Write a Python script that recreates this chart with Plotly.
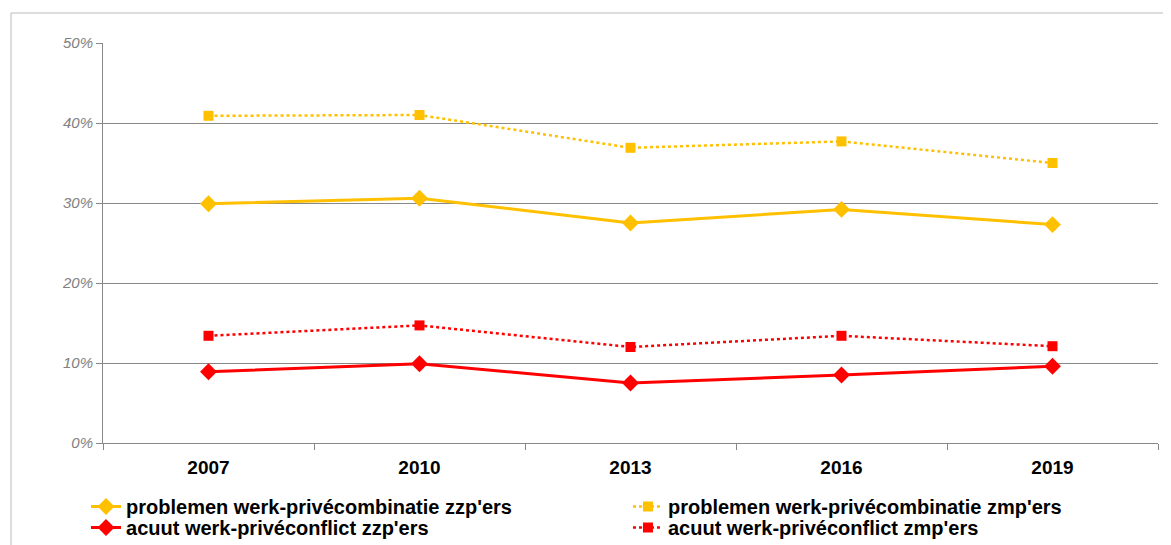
import plotly.graph_objects as go

years = ["2007", "2010", "2013", "2016", "2019"]
prob_zzp = [29.9, 30.6, 27.5, 29.2, 27.3]
prob_zmp = [40.9, 41.0, 36.9, 37.7, 35.0]
acuut_zzp = [8.9, 9.9, 7.5, 8.5, 9.6]
acuut_zmp = [13.4, 14.7, 12.0, 13.4, 12.1]

names = [
    "problemen werk-privécombinatie zzp'ers",
    "problemen werk-privécombinatie zmp'ers",
    "acuut werk-privéconflict zzp'ers",
    "acuut werk-privéconflict zmp'ers",
]

YELLOW = "#FFC000"
RED = "#FF0000"
FONT = "Liberation Sans, Arial, sans-serif"

fig = go.Figure()
series = [
    (prob_zzp, names[0], YELLOW, "solid", "diamond", 13, 3, "legend"),
    (prob_zmp, names[1], YELLOW, "dot", "square", 10, 2.5, "legend2"),
    (acuut_zzp, names[2], RED, "solid", "diamond", 13, 3, "legend3"),
    (acuut_zmp, names[3], RED, "dot", "square", 10, 2.5, "legend4"),
]
for vals, name, col, dash, sym, ms, lw, lg in series:
    fig.add_trace(go.Scatter(
        x=years, y=[v / 100 for v in vals], name=name, mode="lines+markers",
        line=dict(color=col, dash=dash, width=lw),
        marker=dict(symbol=sym, size=ms, color=col, line=dict(width=0)),
        legend=lg,
    ))

legend_common = dict(
    orientation="v", yanchor="top", tracegroupgap=0,
    font=dict(size=20, family=FONT, color="black", weight="bold"),
    bgcolor="rgba(0,0,0,0)",
)
LX1, LX2 = -0.0161, 0.4976
LY1, LY2 = -0.11, -0.1625

fig.update_layout(
    width=1171, height=545,
    margin=dict(l=95, r=21, t=35, b=110, autoexpand=False),
    paper_bgcolor="white", plot_bgcolor="white",
    font=dict(family=FONT, color="black"),
    showlegend=True,
    legend=dict(x=LX1, y=LY1, **legend_common),
    legend2=dict(x=LX2, y=LY1, **legend_common),
    legend3=dict(x=LX1, y=LY2, **legend_common),
    legend4=dict(x=LX2, y=LY2, **legend_common),
    xaxis=dict(
        type="category", range=[-0.5, 4.5], showline=True, linecolor="#888888", linewidth=1,
        ticks="outside", tickson="boundaries", ticklen=6, tickcolor="#888888",
        showgrid=False, zeroline=False, ticklabelstandoff=7,
        tickfont=dict(size=19, color="black", family=FONT, weight="bold"),
    ),
    yaxis=dict(
        range=[0, 0.5], tickvals=[0, 0.1, 0.2, 0.3, 0.4, 0.5], tickformat=".0%",
        showline=True, linecolor="#888888", linewidth=1,
        ticks="outside", ticklen=6, tickcolor="#888888",
        showgrid=True, gridcolor="#888888", gridwidth=1, zeroline=False,
        tickfont=dict(size=15, color="#808080", family=FONT, style="italic"),
    ),
    shapes=[dict(type="rect", xref="paper", yref="paper",
                 x0=(11 - 103) / 1055, x1=1.1, y0=-0.5, y1=(443 - 13) / 400,
                 line=dict(color="#BBBBBB", width=1), layer="below")],
)

fig.write_html("out.html")
